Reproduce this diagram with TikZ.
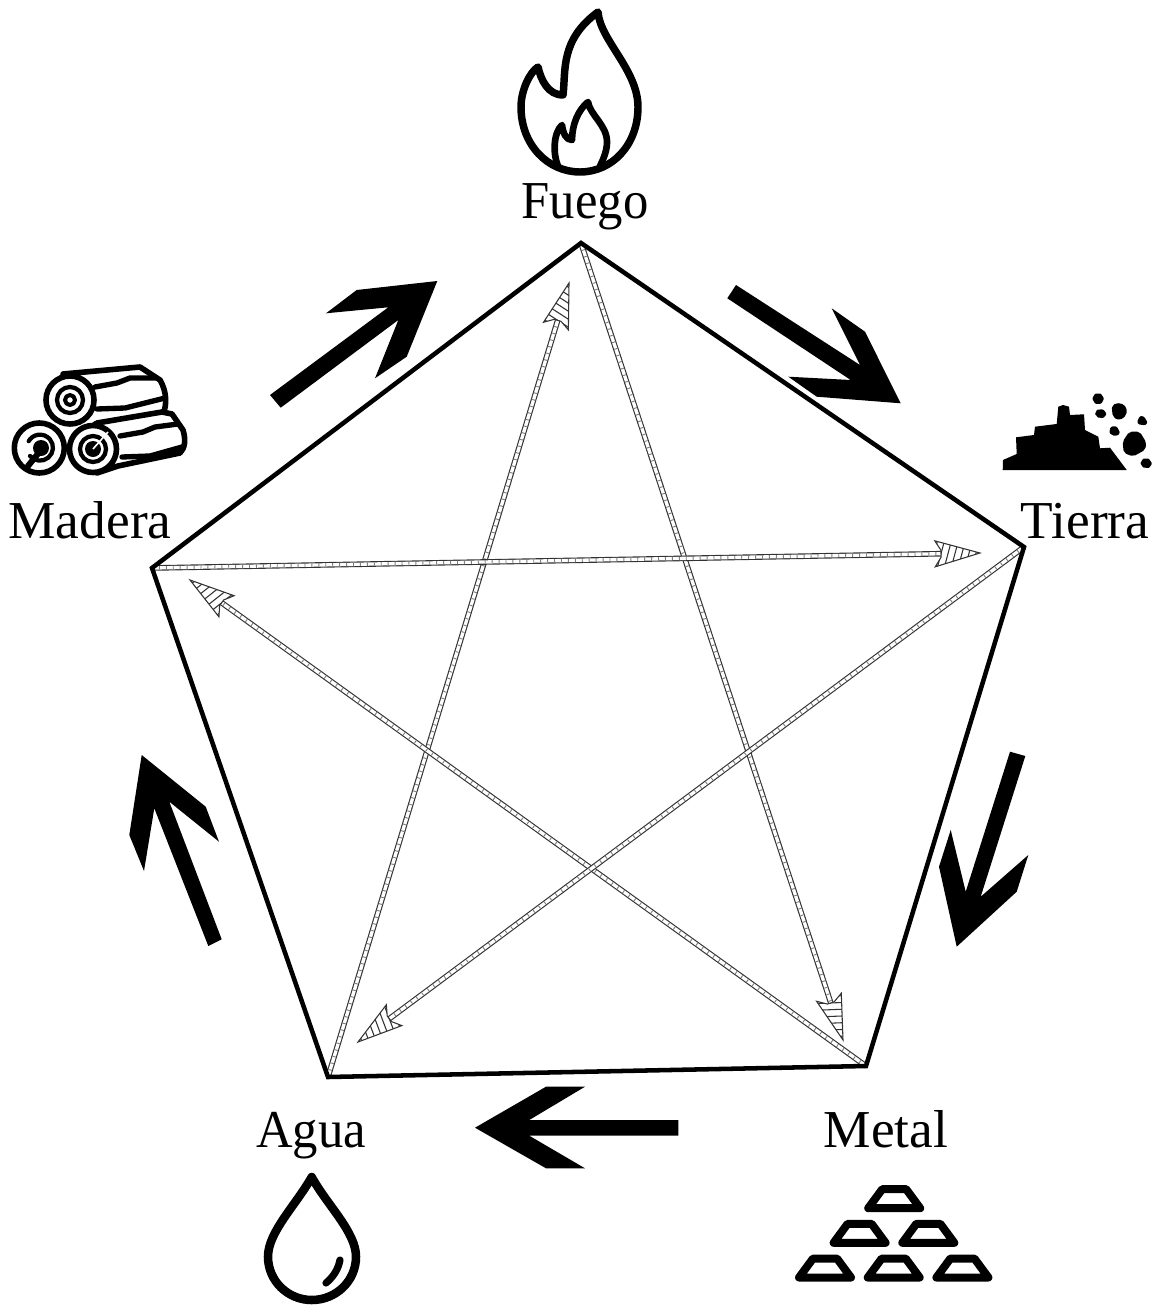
\documentclass[tikz,border=0pt]{standalone}
\usepackage{fontspec}
\setmainfont{Liberation Serif}
\usetikzlibrary{calc}
\tikzset{
  edgeline/.style={draw=black,line width=3.4pt,line join=miter},
  bigarrow/.style={fill=black,draw=none},
  labeltext/.style={anchor=base,text=black,inner sep=0pt,font=\fontsize{40}{44}\selectfont},
  iconline/.style={draw=black,line join=round,line cap=round,fill=none},
  barshape/.style={draw=black,line width=6pt,line join=round,fill=none},
  rockshape/.style={fill=black,draw=black,line width=2pt,line join=round,rounded corners=1.5pt},
  shaftout/.style={draw=black!80,line width=4.2pt},
  shaftin/.style={draw=white,line width=2.5pt},
  shafttick/.style={draw=black!50,line width=2.5pt,dash pattern=on 0.7pt off 4.5pt},
  headline/.style={draw=black!80,line width=0.8pt,line join=miter}
}
\newcommand\hatchedarrow[2]{%
  \path let \p1=($(#2)-(#1)$), \n1={atan2(\y1,\x1)} in \pgfextra{\xdef\hatchang{\n1}};
  \coordinate (shaftend) at ($(#2)!29pt!(#1)$);
  \draw[shaftout] (#1) -- (shaftend);
  \draw[shaftin] (#1) -- (shaftend);
  \draw[shafttick] (#1) -- (shaftend);
  \begin{scope}[shift={(#2)},rotate=\hatchang]
    \fill[white] (0,0) -- (-45,13) -- (-39,3.5) -- (-39,-3.5) -- (-45,-13) -- cycle;
    \begin{scope}
      \clip (0,0) -- (-45,13) -- (-39,3.5) -- (-39,-3.5) -- (-45,-13) -- cycle;
      \foreach \k in {-50,-43,...,-8} \draw[headline] (\k,14) -- ({\k+8},-14);
    \end{scope}
    \draw[headline] (0,0) -- (-45,13) -- (-39,3.5) -- (-39,-3.5) -- (-45,-13) -- cycle;
  \end{scope}
}
\begin{document}
\begin{tikzpicture}[x=0.75pt,y=-0.75pt]
\useasboundingbox (0,0) rectangle (1158,1306);
% vertices
\coordinate (vF) at (581,243);
\coordinate (vT) at (1024,547);
\coordinate (vM) at (866,1066);
\coordinate (vA) at (328,1077);
\coordinate (vW) at (152,568);
% arrow tips
\coordinate (tF) at (569,283);
\coordinate (tM) at (843,1040);
\coordinate (tW) at (190,580);
\coordinate (tT) at (980,553);
\coordinate (tA) at (358,1042);
% star
\hatchedarrow{vA}{tF}
\hatchedarrow{vF}{tM}
\hatchedarrow{vM}{tW}
\hatchedarrow{vW}{tT}
\hatchedarrow{vT}{tA}
% pentagon
\draw[edgeline] (vF) -- (vT) -- (vM) -- (vA) -- (vW) -- cycle;
% big arrows
\fill[bigarrow] (270,395) -- (388.3,307.3) -- (326,313.3) -- (356.7,290) -- (437.3,281) -- (406.7,356.7) -- (375,378.3) -- (398.3,320) -- (280.7,407.7) -- cycle;
\fill[bigarrow] (736,285) -- (860,365) -- (831.7,308.3) -- (865,331.7) -- (900.7,403.3) -- (816.7,396.7) -- (788.3,376.7) -- (850.7,380) -- (727.3,298.3) -- cycle;
\fill[bigarrow] (1010,751.7) -- (965.7,891.7) -- (950.7,830) -- (939,866.7) -- (956.7,946.7) -- (1016.7,891.7) -- (1028.3,855) -- (980.7,896.7) -- (1025.3,756) -- cycle;
\fill[bigarrow] (678.3,1120) -- (529.3,1120) -- (585,1086.7) -- (546,1086.7) -- (475,1127.7) -- (546,1168.3) -- (585,1168.3) -- (529.3,1135.7) -- (678.3,1135.7) -- cycle;
\fill[bigarrow] (221.7,939.3) -- (169.3,801.7) -- (219,841.7) -- (205.7,806.7) -- (141.7,755) -- (129.3,835) -- (144,871) -- (154.3,808.3) -- (208.3,946) -- cycle;
% labels
\node[labeltext] (lF) at (585,218) {\scalebox{.95}[1]{Fuego}};
\node[labeltext] (lW) at (90,538) {Madera};
\node[labeltext] (lT) at (1085,538) {Tierra};
\node[labeltext] (lM) at (886,1147) {Metal};
\node[labeltext] (lA) at (311,1147) {\scalebox{.95}[1]{Agua}};
% flame
\draw[iconline,line width=5.6pt] (598,12) .. controls (600,40) and (638,70) .. (638,107) .. controls (638,145) and (612,172) .. (580,172) .. controls (548,172) and (521,145) .. (521,107) .. controls (521,90) and (530,72) .. (538,67) .. controls (541,80) and (548,95) .. (563,95) .. controls (566,70) and (560,40) .. (598,12) -- cycle;
\draw[iconline,line width=5pt] (558,166) .. controls (553,155) and (553,133) .. (562,125) .. controls (563,133) and (566,140) .. (572,140) .. controls (572,125) and (578,110) .. (588,102) .. controls (590,115) and (607,125) .. (607,142) .. controls (607,150) and (604,158) .. (600,166);
% logs: top log
\draw[iconline,line width=4.2pt,fill=white] (63,374) -- (140,367) -- (160,380) .. controls (167,392) and (167,405) .. (163,414) -- (95,424);
\draw[iconline,line width=4pt] (95,387) -- (117,383) -- (130,378) -- (155,378);
\draw[iconline,line width=4pt] (97,409) -- (125,408) -- (165,398);
\draw[iconline,line width=4.2pt,fill=white] (70,400) circle[radius=24];
\draw[iconline,line width=3.2pt] (70,400) circle[radius=13];
\draw[iconline,line width=3pt] (70,400) circle[radius=5];
% logs: right log
\draw[iconline,line width=4.2pt,fill=white] (97,423) -- (162,412) -- (172,414) -- (183,430) .. controls (186,440) and (185,448) .. (180,453) -- (118,466) -- (97,473);
\draw[iconline,line width=4pt] (120,436) -- (143,432) -- (155,427) -- (178,424);
\draw[iconline,line width=4pt] (122,457) -- (150,456) -- (182,447);
\draw[iconline,line width=4.2pt,fill=white] (93,449) circle[radius=23.5];
\draw[iconline,line width=3.2pt] (93,449) circle[radius=13];
\fill[black] (93,449) circle[radius=8];
\draw[white,line width=1.2pt] (93,449) -- (108,432);
% logs: left log
\draw[iconline,line width=4.2pt,fill=white] (39.3,448) circle[radius=25];
\draw[iconline,line width=3.2pt] (30,456) arc[start angle=140,end angle=-150,radius=13];
\fill[black] (41,448) circle[radius=8];
\draw[iconline,line width=4.5pt] (41,450) -- (28,466);
% earth
\fill[black] (1002.7,470) -- (1003,460) -- (1016.7,454) -- (1016,437.3) -- (1034,435) -- (1035,426.7) -- (1056.7,424) -- (1058.3,406.7) -- (1063,405) -- (1069,406.7) -- (1070,415) -- (1084,414.3) -- (1085,430) -- (1098.3,436.7) -- (1100,448.3) -- (1110,447.7) -- (1126.7,470) -- cycle;
\draw[rockshape] (1094,396) -- (1098,394) -- (1102,396) -- (1102.5,401) -- (1098,403.5) -- (1094,401) -- cycle;
\draw[rockshape] (1096,412) -- (1100,410) -- (1105,412) -- (1105,416) -- (1100,417) -- (1097,415.5) -- cycle;
\draw[rockshape] (1113,406) -- (1120,404) -- (1125.5,408) -- (1125,415) -- (1119,419) -- (1114,416) -- cycle;
\draw[rockshape] (1138,423) -- (1141,416.5) -- (1145.5,420) -- (1146,424) -- cycle;
\draw[rockshape] (1110,430) -- (1114,426.5) -- (1118,430) -- (1118.5,434) -- (1112,434.5) -- cycle;
\draw[rockshape] (1124,442) -- (1130,433) -- (1139,433) -- (1145,443) -- (1144,449) -- (1133,455) -- (1125,452) -- cycle;
\draw[rockshape] (1142,461) -- (1146,459) -- (1150,461) -- (1150.5,466) -- (1146,467) -- (1142,465.5) -- cycle;
% gold bars
\foreach \dx/\dy in {0/0, 68.7/0, 137.4/0, 34.6/-34.7, 103.3/-34.7, 69.2/-69.3}
  \draw[barshape,shift={(\dx,\dy)}] (799,1277.5) -- (813,1258.5) -- (837,1258.5) -- (851,1277.5) -- cycle;
% drop
\draw[iconline,line width=6.4pt] (311.7,1177) .. controls (296,1205) and (268,1232) .. (268,1256.7) .. controls (268,1281) and (288,1300) .. (311.7,1300) .. controls (336,1300) and (356,1281) .. (356,1256.7) .. controls (356,1232) and (327,1205) .. (311.7,1177) -- cycle;
\draw[iconline,line width=5.4pt] (340,1260) .. controls (338,1270) and (333,1277) .. (326,1283);
\end{tikzpicture}
\end{document}
